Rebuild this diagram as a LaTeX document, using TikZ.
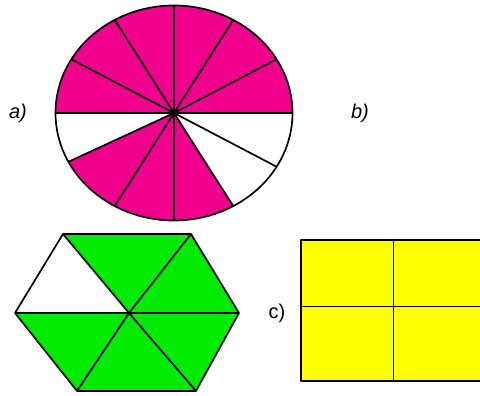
\documentclass[tikz,border=0pt]{standalone}
\usepackage{fontspec}
\setmainfont{Liberation Sans}
\definecolor{pinkfill}{RGB}{240,0,140}
\definecolor{greenfill}{RGB}{0,235,0}
\definecolor{yellowfill}{RGB}{255,255,0}
\begin{document}
\begin{tikzpicture}[x=1pt,y=1pt,
  edge/.style={draw=black,line width=1.7pt,line join=round},
  lbl/.style={font=\fontsize{20}{24}\selectfont\itshape,inner sep=0pt}]
\useasboundingbox (0,0) rectangle (480,396);
\clip (0,0) rectangle (480,396);
% ---- a) ellipse
\coordinate (E) at (174,283);
\def\rx{118.5}\def\ry{107.5}
\fill[pinkfill] (E) -- ++(0:\rx pt and \ry pt) arc[start angle=0,end angle=180,x radius=\rx,y radius=\ry] -- cycle;
\fill[pinkfill] (E) -- ++(207:\rx pt and \ry pt) arc[start angle=207,end angle=300,x radius=\rx,y radius=\ry] -- cycle;
\foreach \a in {0,30,...,180,240,270,300,330} \draw[edge] (E) -- ++(\a:\rx pt and \ry pt);
\draw[edge] (E) -- ++(207:\rx pt and \ry pt);
\draw[edge] (E) ellipse[x radius=\rx,y radius=\ry];
\node[lbl] (la) at (18,283) {a)};
\node[lbl] (lb) at (360,283) {b)};
% ---- hexagon
\coordinate (H) at (129,83);
\coordinate (h1) at (63,162);
\coordinate (h2) at (191,162);
\coordinate (h3) at (239,83);
\coordinate (h4) at (196,5);
\coordinate (h5) at (77,5);
\coordinate (h6) at (15,83);
\fill[greenfill] (h1) -- (h2) -- (h3) -- (h4) -- (h5) -- (h6) -- (H) -- cycle;
\foreach \v in {h1,h2,h3,h4,h5,h6} \draw[edge] (H) -- (\v);
\draw[edge] (h1) -- (h2) -- (h3) -- (h4) -- (h5) -- (h6) -- cycle;
% ---- c) rectangle
\node[lbl,font=\fontsize{20}{24}\selectfont] (lc) at (277,83) {c)};
\coordinate (r1) at (301,156);
\coordinate (r2) at (486,15);
\fill[yellowfill] (r1) rectangle (r2);
\draw[edge] (r1) rectangle (r2);
\draw[edge] (393.5,156) -- (393.5,15);
\draw[edge] (301,89.5) -- (486,89.5);
\end{tikzpicture}
\end{document}
